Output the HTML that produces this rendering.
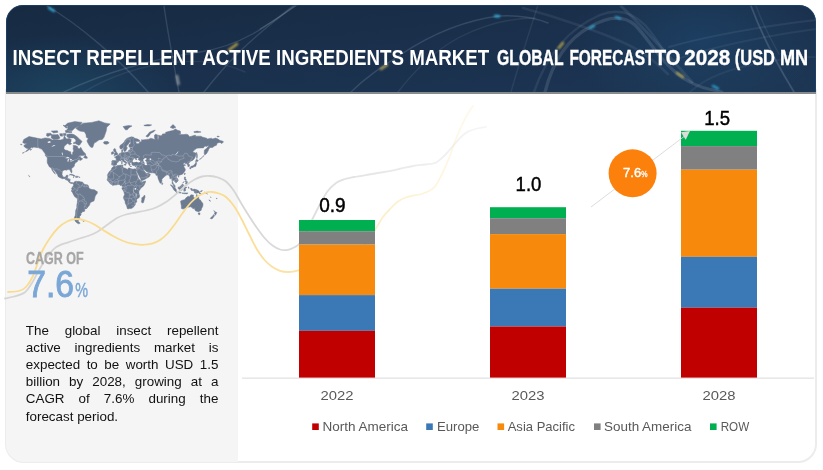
<!DOCTYPE html>
<html lang="en">
<head>
<meta charset="utf-8">
<title>Insect Repellent Active Ingredients Market</title>
<style>
html,body{margin:0;padding:0;background:#fff;}
body{width:823px;height:470px;overflow:hidden;position:relative;font-family:"Liberation Sans",sans-serif;}
#g{position:absolute;left:0;top:0;width:823px;height:470px;display:block;}
#para{position:absolute;left:25.8px;top:321.6px;width:192.6px;font-size:13.4px;line-height:17.22px;color:#111;}
#para div{text-align:justify;text-align-last:justify;white-space:nowrap;height:17.22px;}
#para div.last{text-align:left;text-align-last:left;}
</style>
</head>
<body>
<svg id="g" width="823" height="470" viewBox="0 0 823 470" font-family="'Liberation Sans',sans-serif">
<defs>
<linearGradient id="hdr" x1="0" y1="0" x2="1" y2="1">
<stop offset="0" stop-color="#172a42"/>
<stop offset="0.5" stop-color="#1a304c"/>
<stop offset="1" stop-color="#1c3654"/>
</linearGradient>
<radialGradient id="hglow" gradientUnits="userSpaceOnUse" cx="700" cy="30" r="130" gradientTransform="matrix(1 0 0 0.6 0 22)">
<stop offset="0" stop-color="#1f507c" stop-opacity="0.42"/><stop offset="1" stop-color="#255078" stop-opacity="0"/>
</radialGradient>
<radialGradient id="hglow2" gradientUnits="userSpaceOnUse" cx="60" cy="95" r="120" gradientTransform="matrix(1 0 0 0.5 0 47)">
<stop offset="0" stop-color="#1f5672" stop-opacity="0.5"/><stop offset="1" stop-color="#1f5672" stop-opacity="0"/>
</radialGradient>
<filter id="b1" x="-50%" y="-50%" width="200%" height="200%"><feGaussianBlur stdDeviation="0.9"/></filter>
<filter id="b0" x="-5%" y="-5%" width="110%" height="110%"><feGaussianBlur stdDeviation="0.45"/></filter>
<clipPath id="card"><path d="M6 94H816V444a18 18 0 0 1-18 18H24a18 18 0 0 1-18-18Z"/></clipPath>
<clipPath id="hclip"><path d="M6 92V22A17 17 0 0 1 23 5H799A17 17 0 0 1 816 22V92Z"/></clipPath>
<linearGradient id="fadeG" gradientUnits="userSpaceOnUse" x1="230" y1="0" x2="490" y2="0">
<stop offset="0" stop-color="#d5d5d5"/><stop offset="0.3" stop-color="#d9d9d9" stop-opacity="0.9"/><stop offset="1" stop-color="#dcdcdc" stop-opacity="0.25"/>
</linearGradient>
<linearGradient id="fadeY" gradientUnits="userSpaceOnUse" x1="230" y1="0" x2="476" y2="0">
<stop offset="0" stop-color="#fadc90"/><stop offset="0.3" stop-color="#fbe09c" stop-opacity="0.85"/><stop offset="1" stop-color="#fce3a3" stop-opacity="0.2"/>
</linearGradient>
</defs>

<!-- card -->
<path d="M6 90H816V444a18 18 0 0 1-18 18H24a18 18 0 0 1-18-18Z" fill="#fff" stroke="#ececec" stroke-width="2"/>
<!-- left panel -->
<g clip-path="url(#card)">
<rect x="5" y="94" width="233" height="370" fill="#f5f5f5"/>
</g>

<!-- header -->
<g clip-path="url(#hclip)">
<rect x="6" y="5" width="810" height="87" fill="url(#hdr)"/>
<rect x="6" y="5" width="810" height="87" fill="url(#hglow)"/>
<rect x="6" y="5" width="810" height="87" fill="url(#hglow2)"/>
<g id="streaks" filter="url(#b0)" fill="none" stroke="#b9c8dc" stroke-opacity="0.17" stroke-width="1.4" stroke-linecap="round">
<path d="M47 6C80 25 120 60 148 92"/>
<path d="M164 6C168 35 174 65 179 92"/>
<path d="M64 92C110 70 160 58 200 52C240 46 270 25 294 5"/>
<path d="M204 92C225 65 250 38 296 5"/>
<path d="M84 92C110 76 140 66 175 62C205 60 225 63 245 72" stroke-opacity="0.09"/>
<path d="M351 92C365 78 380 68 400 55C430 35 465 20 500 16C520 15 535 18 548 23"/>
<path d="M398 92C415 70 435 50 460 37C490 22 515 18 535 18" stroke-opacity="0.1"/>
<path d="M260 29C275 20 287 12 297 5"/>
<path d="M511 92C520 60 530 30 538 5" stroke-opacity="0.1"/>
<path d="M545 92C552 65 565 40 590 27C605 18 622 14 635 25C650 40 665 70 690 82C700 88 712 90 722 92" stroke-width="3.2" stroke-opacity="0.16"/>
<path d="M534 92C545 60 565 30 600 15C615 9 630 10 645 25C655 36 662 48 670 60" stroke-width="2.4" stroke-opacity="0.1"/>
<path d="M621 6C640 24 660 46 692 82" stroke-width="3" stroke-opacity="0.12"/>
<path d="M523 8C560 18 600 32 621 41.5C637 48 652 58 668 74" stroke-width="2.6" stroke-opacity="0.09"/>
<path d="M751 6C760 30 772 56 794 92" stroke-width="1.8" stroke-opacity="0.2"/>
<path d="M756 6C762 22 770 38 779 54" stroke-opacity="0.1"/>
<path d="M669 47C700 38 760 26 816 20" stroke-opacity="0.09" stroke-width="2"/>
<path d="M675 60C710 47 770 35 816 29" stroke-opacity="0.08" stroke-width="2"/>
<path d="M690 92C705 78 730 68 765 62C790 58 805 57 816 57" stroke-opacity="0.07" stroke-width="2"/>
</g>
<g fill="none" stroke-linecap="round" stroke-width="2.4" filter="url(#b1)">
<path d="M49 8L54 11" stroke="#35b6e6" stroke-opacity="0.9"/>
<path d="M229 50L237 44" stroke="#e6c646" stroke-opacity="0.75"/>
<path d="M177 76L178.5 84" stroke="#d8d8d0" stroke-opacity="0.55" stroke-width="2.6"/>
<path d="M381 69L387 65" stroke="#e8c85a" stroke-opacity="0.7"/>
<path d="M495 16L499 16.3" stroke="#35b6e6" stroke-opacity="0.9"/>
<path d="M559 48L563 43" stroke="#e6c646" stroke-opacity="0.7"/>
<path d="M590 28L594 26" stroke="#35b6e6" stroke-opacity="0.8"/>
<path d="M616 17L620 18.5" stroke="#35b6e6" stroke-opacity="0.7"/>
<path d="M677 73L683 77" stroke="#e6c646" stroke-opacity="0.7"/>
<path d="M713 86L718 88.5" stroke="#35b6e6" stroke-opacity="0.8"/>
</g>
</g>
<path d="M6.5 92V22A16.5 16.5 0 0 1 23 5.5H799A16.5 16.5 0 0 1 815.5 22V92" fill="none" stroke="#1d4a78" stroke-opacity="0.6" stroke-width="1"/>
<rect x="6" y="92" width="810" height="2" fill="#868b8c"/>

<!-- map -->
<g id="map">
<path d="M22.7 142.4L23.8 139.4L29.1 136.5L37.8 138.3L41.2 138.9L45.1 137.9L49.6 138.4L52.4 139.9L56.3 139.9L60.8 139.9L63.6 138.9L64.2 135.7L66.4 138.9L69.2 138.4L71.2 139.4L70.9 141.9L68.1 142.9L66.4 144.3L64.2 146.6L63.9 148.6L65.0 150.1L67.5 150.5L69.2 151.5L70.7 151.8L70.9 153.4L71.7 154.7L72.6 154.6L72.6 152.6L73.7 150.9L73.1 148.8L73.4 147.1L73.1 145.4L75.4 145.4L77.6 146.6L77.9 148.4L79.9 148.8L80.7 147.2L82.1 149.7L83.2 151.4L85.5 153.8L85.5 154.6L83.2 155.6L79.9 155.6L78.2 156.9L80.4 156.5L80.7 157.7L82.7 158.8L81.6 159.7L79.9 160.6L79.3 159.5L77.6 160.5L77.3 161.7L75.4 162.7L74.5 164.5L74.3 166.2L73.1 167.2L71.5 168.8L72.0 171.7L71.7 172.9L71.0 172.4L70.4 171.1L69.8 169.8L68.7 169.6L66.7 169.7L66.7 170.3L65.6 170.1L64.2 170.1L62.5 171.1L62.2 172.7L62.0 174.6L63.0 176.7L63.9 177.2L65.6 177.0L66.1 175.5L68.1 175.2L67.8 176.7L67.3 178.5L68.7 178.7L70.2 179.2L69.9 181.6L70.6 182.5L72.0 182.6L73.4 182.9L73.5 183.4L72.9 183.2L72.0 183.8L71.2 183.4L70.3 183.2L68.9 182.2L67.8 180.4L65.8 179.8L64.2 178.4L62.5 178.7L60.2 177.8L58.0 176.4L57.7 174.9L56.3 173.0L55.2 171.4L53.8 169.8L52.6 168.7L52.7 169.8L54.1 171.7L54.9 173.3L55.5 174.2L54.1 173.0L52.7 171.1L51.8 169.5L51.2 168.0L49.3 166.8L48.5 165.2L47.3 162.9L47.2 161.0L47.3 158.6L47.0 157.0L47.9 157.3L48.0 156.4L46.8 155.5L45.4 154.6L44.8 153.0L43.7 151.9L42.8 150.5L41.7 149.0L40.0 148.6L38.4 147.7L36.1 147.5L33.9 147.1L31.9 148.1L31.6 146.8L30.5 148.4L29.1 149.7L27.1 151.1L25.5 151.8L26.6 150.5L28.3 149.2L28.5 148.6L27.1 148.6L26.0 147.9L24.6 147.1L23.8 145.9L24.6 144.8L26.6 144.0L26.6 143.4L24.3 143.4ZM72.0 134.0L74.3 134.8L77.1 136.8L79.3 138.9L82.1 141.4L81.0 142.9L79.9 144.8L78.5 145.2L76.8 144.3L75.4 143.4L73.4 143.6L73.7 142.4L75.7 141.9L75.9 139.9L73.7 137.9L72.0 137.9L69.2 137.9L67.0 136.8L66.7 134.6L69.2 134.0ZM51.3 134.6L55.8 134.8L58.0 134.6L60.0 137.9L58.0 139.2L53.5 139.4L51.3 137.9ZM46.8 133.4L50.7 133.2L51.8 134.6L47.9 136.5L46.5 135.7ZM66.4 130.5L72.0 130.7L74.3 128.6L79.9 125.3L82.1 122.4L74.8 121.6L67.5 123.2L65.3 125.3L68.1 127.9ZM65.3 130.5L72.0 131.7L71.5 132.7L65.8 132.6ZM51.3 131.1L57.4 130.8L58.0 132.3L53.5 132.9ZM63.0 125.3L68.1 125.9L66.4 128.2ZM59.7 133.7L62.5 133.7L62.5 136.2L60.2 136.0ZM63.3 133.4L66.1 133.4L65.8 135.4L63.6 135.5ZM68.1 142.4L69.8 141.9L71.7 143.8L69.8 144.8L68.1 143.8ZM83.6 157.5L85.5 154.6L85.8 155.9L87.2 156.9L87.2 158.3L85.5 158.2ZM44.9 155.2L46.8 155.8L47.6 157.0L46.5 156.7ZM75.9 128.3L78.8 125.9L83.2 123.2L91.7 122.4L98.9 120.8L104.6 122.9L110.2 123.9L106.8 127.3L106.2 131.1L104.8 135.1L104.0 137.3L102.3 139.4L98.9 139.9L96.1 142.1L94.2 143.1L92.8 147.3L91.7 147.5L90.0 146.6L88.3 143.8L86.9 140.9L88.3 138.4L86.3 137.3L86.0 134.6L84.4 131.7L79.9 131.1L77.6 129.8ZM103.4 142.4L104.6 141.5L107.9 141.5L109.2 142.9L106.8 144.3L104.3 143.9ZM69.2 175.0L70.9 174.2L73.1 174.7L75.3 176.0L73.4 176.2L72.6 175.2L70.3 174.9ZM75.2 177.0L76.2 176.2L78.2 176.4L78.5 177.0L76.8 177.5ZM79.2 177.0L80.1 177.1L80.0 177.4L79.2 177.3ZM73.0 177.1L74.1 177.2L73.7 177.5ZM73.5 183.1L74.5 181.7L76.5 181.0L76.8 181.6L78.8 181.3L81.0 181.9L82.4 181.9L83.2 183.1L84.9 184.5L87.2 184.8L88.3 185.6L88.8 187.5L89.7 188.7L91.9 189.5L94.5 189.8L96.1 191.0L97.3 191.6L97.3 193.3L95.9 195.0L95.0 196.8L94.7 198.6L93.9 201.0L91.9 201.7L90.0 203.1L89.6 204.9L88.3 206.5L86.9 208.4L85.2 208.9L84.2 208.4L84.9 210.1L84.4 211.4L82.1 211.7L81.8 213.1L80.4 213.1L81.2 214.3L80.3 215.9L79.0 216.9L80.0 217.7L78.9 219.5L78.2 220.7L78.5 221.4L80.2 223.2L78.5 223.8L77.1 223.0L75.4 221.4L74.5 219.5L74.5 217.3L75.4 215.2L75.6 212.4L75.7 210.4L76.8 207.8L76.8 205.3L77.3 202.8L77.5 199.8L77.1 198.3L74.8 196.8L73.7 195.0L72.6 192.7L71.3 191.0L72.0 189.5L71.5 188.7L72.0 187.5L72.7 186.9L73.4 185.7L73.4 183.9ZM82.7 220.7L84.4 220.5L84.1 221.3L83.0 221.2ZM111.9 165.2L111.6 163.9L112.0 162.0L111.7 161.0L112.4 160.5L114.9 160.6L116.1 160.7L116.2 158.8L115.5 157.8L114.3 157.0L116.1 156.8L115.9 156.0L117.0 156.1L117.8 155.1L118.9 154.7L119.5 153.4L120.8 153.0L121.7 152.6L121.7 150.1L122.8 149.5L122.8 150.9L122.5 152.2L123.1 152.6L124.8 152.6L127.3 152.0L128.7 151.5L128.7 150.1L130.4 149.7L130.1 148.1L132.6 147.8L133.7 147.5L132.0 147.1L129.8 147.5L129.0 146.6L129.0 144.8L130.9 142.9L130.4 142.1L129.2 142.4L128.7 143.8L126.7 145.7L126.4 147.1L127.4 147.7L126.2 150.1L125.8 150.9L124.9 151.4L124.2 151.4L123.9 150.5L123.2 148.6L122.8 147.9L121.4 149.2L120.0 148.6L119.7 146.6L120.3 145.2L122.5 143.8L124.2 141.9L125.3 139.9L127.0 138.4L129.2 137.5L131.5 136.8L133.7 137.3L134.3 138.1L135.7 138.5L137.7 139.1L139.9 140.4L139.6 141.6L137.1 141.6L135.4 141.2L136.4 143.4L137.9 143.8L139.3 143.3L139.6 142.1L141.6 141.6L141.6 139.6L142.7 139.9L146.6 139.4L148.9 139.2L150.8 138.2L153.1 138.9L155.3 139.6L154.5 137.9L154.5 135.1L155.6 134.3L157.6 134.9L157.7 138.9L158.1 139.9L158.7 137.3L158.4 135.1L160.1 135.7L162.1 135.5L162.3 134.0L165.4 133.7L165.7 132.3L170.2 131.1L173.0 130.5L175.5 129.0L177.5 130.2L180.3 131.1L180.6 133.8L178.0 134.0L180.3 134.6L183.7 134.6L186.2 134.2L188.1 134.8L189.5 136.8L191.5 136.2L195.4 135.1L195.4 136.2L201.1 136.2L202.2 137.0L206.7 138.2L207.2 139.1L211.1 138.2L212.8 138.9L215.6 138.1L217.9 139.0L217.9 142.8L217.0 143.4L216.5 145.2L214.5 146.0L212.6 147.5L210.0 147.5L208.6 149.4L208.2 150.9L207.6 151.8L206.7 153.4L205.7 154.3L204.8 155.0L204.2 153.4L204.4 150.1L206.1 148.8L208.3 146.6L208.6 145.2L206.7 146.6L205.0 146.0L203.3 148.0L201.6 147.9L198.8 148.1L196.8 148.2L194.3 150.1L192.7 151.9L194.3 152.6L196.0 153.2L195.7 155.8L194.6 158.2L192.9 160.2L191.2 161.0L190.3 161.5L189.5 162.4L188.4 163.2L189.5 164.8L189.4 166.3L187.9 166.8L187.9 165.2L187.0 164.5L187.3 163.4L185.3 163.8L185.1 162.5L183.1 163.8L183.5 164.7L184.6 164.6L185.6 165.2L184.2 165.8L183.8 166.5L184.7 168.2L185.3 169.1L185.1 170.8L184.2 172.0L183.4 173.3L182.3 174.2L180.9 174.7L179.2 175.2L178.6 175.9L177.9 175.1L176.8 175.8L176.3 176.7L176.9 177.9L177.9 178.9L178.2 180.7L177.1 181.9L175.8 182.9L175.7 182.0L174.7 181.6L174.4 180.8L173.6 180.4L173.0 180.1L172.6 181.9L173.3 183.7L174.1 184.4L174.9 185.4L175.0 186.6L175.4 187.3L174.9 187.3L173.7 186.4L173.2 184.8L172.0 183.2L172.2 181.6L171.8 179.5L171.6 178.2L170.5 178.7L169.8 178.5L169.9 177.0L168.8 175.5L168.2 174.4L167.4 174.9L166.5 175.1L165.7 175.5L165.4 176.1L164.6 176.4L163.1 178.1L161.9 178.9L161.9 180.4L161.7 182.0L161.2 182.6L160.4 183.4L159.7 182.3L158.9 180.4L158.1 178.5L157.7 176.4L157.6 175.3L156.5 175.6L155.6 174.7L156.3 174.2L155.2 173.8L154.5 173.1L152.8 172.8L151.4 172.9L149.2 172.5L148.6 171.7L147.5 172.0L145.8 171.1L145.0 169.7L143.8 169.8L144.1 170.8L145.0 171.9L145.2 172.7L145.7 172.4L145.8 173.3L147.2 173.5L148.4 172.2L148.7 173.3L149.8 173.9L150.4 174.6L149.3 176.7L147.9 177.6L146.2 178.5L144.2 179.8L142.1 180.5L141.3 180.5L140.9 179.2L139.9 177.3L138.8 175.2L137.8 173.4L136.5 171.1L136.4 170.1L136.3 171.1L135.7 171.1L135.1 169.9L135.0 169.0L136.1 169.0L136.5 167.8L137.1 166.0L137.2 165.4L136.0 165.6L134.9 165.8L134.0 165.5L132.7 165.4L132.2 164.8L131.7 164.1L131.8 163.4L131.6 163.1L131.5 162.6L130.4 162.5L130.1 162.9L129.7 162.7L129.8 163.8L130.4 164.5L129.8 164.6L129.9 165.5L129.5 165.5L129.1 165.2L128.8 164.3L128.1 163.3L127.8 162.0L127.3 161.3L125.9 160.6L125.3 159.9L124.8 159.4L124.6 159.0L123.8 159.3L123.9 160.2L124.6 160.8L125.9 161.8L127.3 162.9L126.4 162.8L126.2 163.4L126.4 163.8L125.9 164.5L125.7 164.5L125.9 163.8L125.6 163.1L124.8 162.4L123.9 162.0L122.8 161.0L122.5 160.2L121.8 159.9L121.1 160.4L120.3 160.9L119.1 160.6L118.6 161.3L118.7 161.8L117.3 162.4L116.7 163.4L117.0 164.0L116.5 164.7L115.8 165.3L114.4 165.4L113.8 165.8L113.4 165.4L112.7 165.0ZM217.8 139.0L220.1 140.4L222.9 141.2L223.5 141.9L221.8 143.6L220.1 142.4L217.8 142.8ZM113.8 155.8L115.2 155.2L117.5 154.8L117.9 153.6L117.1 153.4L116.8 152.2L116.1 151.4L115.8 150.9L115.8 149.5L114.7 149.5L115.2 148.7L114.1 148.7L113.5 149.7L113.8 150.9L114.2 151.8L115.2 151.9L115.2 153.0L114.4 153.2L114.5 154.0L114.0 154.3L114.9 154.7ZM111.3 154.2L113.4 154.0L113.5 153.0L113.8 152.1L112.8 151.5L112.1 152.2L111.3 152.4L111.6 153.2ZM113.8 166.0L115.8 166.4L117.5 165.5L119.7 165.3L121.9 165.0L123.1 165.2L122.7 167.0L123.1 167.5L124.2 167.9L125.5 168.3L127.6 169.6L128.1 169.1L128.1 168.2L129.8 168.1L130.9 168.7L133.2 169.2L134.3 168.8L135.0 169.0L135.1 169.9L135.9 171.4L136.8 173.6L137.7 175.5L137.8 176.9L138.8 178.7L139.9 179.8L141.1 180.7L141.2 181.3L142.1 181.9L143.8 181.4L145.6 181.0L145.4 182.2L144.4 184.5L143.3 186.3L141.6 187.5L140.2 189.3L139.1 190.8L138.8 192.1L139.1 193.9L139.6 195.6L139.3 197.4L137.7 198.4L136.5 199.8L136.8 201.9L135.4 203.1L135.3 204.6L134.0 206.5L132.6 207.8L131.2 208.4L129.2 208.6L128.1 208.9L127.2 208.4L127.0 207.1L126.2 204.9L125.3 203.4L125.0 201.0L123.6 198.6L123.5 197.1L124.6 194.5L124.2 193.0L123.7 191.6L123.1 190.4L121.9 188.7L122.2 187.5L122.3 186.0L121.7 185.4L120.3 185.6L119.4 184.4L117.7 184.5L115.8 185.1L114.4 185.0L112.7 185.5L111.6 184.5L110.4 183.9L109.5 182.8L108.6 181.7L107.5 180.8L107.1 179.3L107.6 178.5L107.8 176.7L107.4 175.5L107.9 173.9L108.8 172.4L109.6 171.3L111.3 170.1L111.5 168.8L112.1 167.6L113.3 167.0ZM144.6 195.0L145.1 197.1L144.7 198.0L143.5 202.5L142.4 203.1L141.4 201.9L141.8 199.8L141.8 197.7L143.0 197.2L143.8 195.9ZM180.6 201.0L180.9 203.4L181.4 205.9L181.4 208.4L183.1 209.1L184.8 208.3L186.5 207.8L188.7 207.1L190.7 206.8L192.4 207.8L193.2 209.1L194.1 207.8L194.6 209.1L195.4 210.7L197.4 211.5L199.0 211.7L199.9 210.9L201.1 210.4L201.6 208.4L202.7 206.5L203.0 204.6L202.7 203.1L201.6 201.9L200.5 200.1L199.0 199.2L198.5 196.8L197.4 196.2L196.8 194.3L196.4 195.6L196.0 198.0L195.2 198.3L193.2 197.1L193.6 195.2L191.5 194.7L190.4 195.2L189.5 196.8L188.1 196.2L187.0 197.1L185.5 198.3L185.1 199.5L182.5 200.2ZM198.1 212.9L200.0 212.9L199.9 214.6L198.8 214.8ZM213.8 210.5L214.8 211.5L215.4 211.9L216.9 212.6L216.2 213.8L215.6 215.1L215.0 215.1L215.1 214.2L214.4 213.7L214.9 212.5ZM213.8 214.5L214.6 215.4L213.8 216.8L212.8 218.1L212.0 218.9L210.3 218.5L211.4 217.0L212.8 215.9ZM190.4 188.6L192.1 188.6L192.6 190.0L194.0 189.1L196.0 189.6L198.0 190.3L199.4 191.6L199.8 192.4L201.3 194.2L199.6 193.9L198.8 192.7L197.4 193.0L196.0 193.3L194.6 192.9L194.3 191.3L192.9 190.6L191.5 190.4L191.0 189.7ZM200.2 191.3L202.2 190.5L202.3 191.0L201.1 191.7ZM178.0 187.2L179.3 187.1L180.3 186.3L181.7 185.1L182.5 183.9L183.7 185.0L183.0 186.3L183.1 187.5L182.3 188.7L182.0 190.3L180.6 190.0L179.5 189.8L178.6 189.0L178.0 188.1ZM170.4 184.8L171.6 185.0L173.3 186.8L175.1 188.1L176.4 189.8L176.3 191.4L175.5 191.4L174.1 190.2L173.2 188.7L172.2 187.1ZM175.9 192.0L177.8 192.0L179.2 191.8L181.1 192.5L181.0 193.1L178.6 192.8L176.6 192.4ZM181.7 192.9L183.7 192.9L185.9 192.9L187.0 193.0L188.1 193.0L186.5 193.9L183.9 193.6L182.0 193.3ZM184.1 187.6L184.8 187.3L187.0 187.2L185.9 187.9L184.5 187.9L185.1 188.7L186.1 188.7L185.3 189.3L185.6 190.7L185.1 190.9L184.7 189.7L184.4 191.3L183.9 191.3L183.8 190.0ZM188.4 186.9L189.0 187.2L189.0 188.4L188.4 188.1ZM184.5 177.0L185.5 177.1L185.3 178.5L186.5 180.1L186.2 180.5L184.8 179.9L184.4 179.3L184.4 178.4ZM185.3 181.1L186.5 181.4L187.3 181.6L187.0 182.2L185.9 182.6L185.3 181.9ZM185.3 183.9L186.2 182.9L187.3 182.3L187.9 183.7L187.3 184.7L186.5 184.2ZM182.7 183.1L183.9 181.9L184.1 181.4L183.1 182.6ZM190.3 167.2L191.2 166.2L193.2 165.8L193.8 164.9L195.2 164.1L195.4 163.1L196.2 162.1L196.6 163.4L196.0 165.2L195.9 166.2L195.3 166.5L193.8 166.8L192.9 167.5L191.5 167.0ZM195.4 161.7L196.4 159.2L198.4 160.6L197.1 161.7L196.0 161.3ZM189.8 167.5L190.8 167.6L190.7 168.9L189.9 169.0ZM191.2 167.2L192.4 167.0L192.2 167.6L191.4 167.9ZM196.6 152.3L197.2 154.2L197.4 156.4L197.0 158.6L196.6 157.7L196.6 155.8L196.4 153.8ZM184.8 172.9L185.3 173.3L184.7 174.9L184.3 174.2ZM177.9 176.5L178.9 176.1L179.1 176.7L178.3 177.2ZM161.8 182.3L162.8 183.7L162.3 184.5L161.8 184.4L161.7 183.4ZM145.8 136.2L148.0 134.2L149.4 132.3L153.4 130.5L155.3 130.1L153.9 131.7L150.6 133.4L149.2 135.7L147.8 137.1ZM123.1 126.6L125.9 125.9L128.7 125.5L132.0 125.9L128.7 127.9L127.3 129.8L125.3 129.8L124.5 128.6ZM143.8 125.3L147.8 124.6L151.7 124.9L149.4 125.9L145.0 125.9ZM170.2 127.3L173.0 124.6L175.8 127.3L173.0 128.6ZM193.8 131.7L197.1 131.1L201.1 132.0L198.2 132.6L194.3 132.5ZM217.0 136.2L219.3 136.4L219.0 136.9L217.2 136.9ZM123.9 164.5L125.7 164.3L125.4 165.4L123.9 164.7ZM121.5 162.4L122.3 162.4L122.2 163.7L121.6 163.8ZM121.7 161.3L122.2 161.0L122.2 162.0L121.8 162.0ZM130.1 166.1L131.7 166.3L131.5 166.5L130.1 166.4ZM135.0 166.4L136.3 166.0L136.0 166.6L135.1 166.8ZM29.4 176.0L30.1 176.4L29.6 176.8L29.3 176.3ZM28.1 175.1L28.5 175.3L28.2 175.4ZM199.4 159.4L201.1 158.4L202.7 156.9L204.1 155.5L203.9 155.5L202.2 157.4L200.5 158.9ZM22.4 153.0L23.8 152.6L24.6 151.9L24.3 152.3L22.9 153.2ZM30.2 149.4L31.5 149.2L31.3 149.9L30.3 150.3ZM20.6 144.1L22.2 144.5L21.5 144.8L20.6 144.5ZM208.9 199.8L210.6 201.1L210.3 201.2L208.9 200.2ZM216.4 198.3L217.2 198.3L217.0 198.7L216.4 198.7ZM204.7 192.0L206.7 193.3L207.5 194.0L206.4 193.5L204.8 192.3ZM210.4 196.8L210.8 197.1L211.0 197.7L210.6 197.2Z" fill="#6d7b91" stroke="#6d7b91" stroke-width="0.5" stroke-linejoin="round"/>
<path d="M132.6 161.7L133.0 160.2L133.6 159.3L134.3 158.3L135.4 158.7L135.4 159.5L135.8 159.9L136.8 159.7L137.4 159.3L136.5 158.9L136.5 158.6L137.7 158.0L138.8 157.9L137.9 159.0L138.5 159.9L139.9 161.0L140.2 162.0L138.2 162.4L136.5 161.7L134.6 162.2L133.2 162.2ZM143.3 159.5L144.4 158.4L145.8 158.0L146.6 158.4L146.4 159.5L145.5 159.9L145.1 161.0L146.1 161.3L146.6 162.4L146.6 163.4L147.2 164.8L146.1 165.3L145.0 164.9L144.4 164.1L144.7 162.9L143.8 161.7L143.3 160.6ZM149.6 158.4L151.1 158.4L151.1 159.9L149.8 160.2ZM65.3 158.2L67.5 156.7L69.2 157.4L69.4 158.3L67.8 158.3L66.4 158.3ZM67.6 161.7L68.4 161.7L68.9 159.1L68.1 159.0L67.5 159.9ZM69.5 158.8L71.5 158.9L72.0 159.8L70.9 160.8L70.1 159.9ZM70.2 161.8L72.6 161.1L74.1 160.5L74.0 160.2L72.3 160.5L70.3 161.5ZM61.6 153.0L62.5 152.6L62.9 155.0L62.5 155.4ZM47.3 141.9L50.1 140.9L50.7 142.6L48.5 142.9ZM51.3 146.6L54.1 145.0L55.5 145.2L52.9 146.6ZM134.7 187.9L136.0 187.9L136.0 189.5L134.9 189.7ZM175.2 154.4L176.4 153.4L178.0 151.4L178.5 151.4L176.9 154.0L175.5 154.7ZM158.1 158.8L160.1 158.2L161.2 158.3L159.5 158.6L158.4 159.3ZM133.3 190.1L133.6 190.1L134.3 193.0L133.9 193.0ZM135.9 193.6L136.3 193.6L136.6 196.4L136.3 196.4Z" fill="#f5f5f5"/>
<path d="M47.9 156.5L63.6 156.5L66.7 157.3L69.5 158.4L70.6 159.3L70.6 161.7L72.6 160.8L74.0 160.2L75.0 159.5L76.8 159.5L78.1 157.7L78.9 158.0L79.3 159.5M37.8 138.3L37.8 147.2L39.8 148.4L42.3 150.9L43.9 151.8M51.2 168.2L52.6 168.0L54.6 169.0L56.2 169.0L57.2 168.6L58.3 170.1L59.4 169.9L60.8 171.1L62.3 172.4M65.2 179.5L65.8 177.8L66.9 177.5L67.4 177.1M66.4 179.9L67.3 178.7M67.8 180.4L70.2 179.2M68.8 181.5L69.9 181.6M70.3 183.2L70.6 182.4M76.8 181.1L76.2 183.4L77.6 184.2L79.0 184.5L79.3 187.4M83.2 183.1L82.4 184.5L83.0 185.1L81.0 185.7L81.3 186.8L79.4 187.4M83.0 185.1L83.4 186.7L85.2 186.9L86.3 186.7L87.7 186.7L88.0 185.6M84.8 184.5L84.4 186.0L85.2 186.9M86.6 184.7L86.3 186.7M79.3 187.4L77.6 187.8L77.9 189.0L77.6 190.5M72.7 187.2L74.5 188.1L74.7 188.7L77.6 190.5M71.9 190.1L72.6 191.0L74.7 188.7M77.6 190.5L75.9 191.0L75.4 192.4L76.2 193.6L77.3 193.6L77.3 194.5L78.2 194.5M78.2 194.5L78.2 197.1L77.9 198.3L77.5 198.7M78.2 194.5L80.3 193.9L80.4 195.0L83.0 196.0L83.2 197.6L84.2 197.7L84.5 198.6L84.4 199.8M77.9 198.3L78.5 199.8L79.2 201.4M79.2 201.4L80.4 201.0L81.8 201.1L82.3 199.5L84.4 199.8M84.4 199.8L84.5 201.1L85.7 201.1L86.4 202.2L86.3 203.1M81.8 201.1L84.4 202.8L84.0 204.1L85.5 204.2L86.3 203.1M86.3 203.1L86.7 204.1L84.6 206.0L84.2 208.1M84.6 206.0L85.8 206.4L86.9 208.2M79.2 201.4L78.5 202.5L78.6 204.0L77.7 205.9L77.6 207.8L77.3 210.1L77.0 211.7L76.7 213.8L76.7 215.9L76.5 217.7L75.9 219.5L76.3 220.7L78.5 221.3M112.0 161.7L113.3 161.8L113.0 163.4L112.7 165.0M115.9 160.7L117.3 161.2L118.7 161.4M118.3 154.9L119.3 155.8L120.3 156.1L121.5 156.5L121.2 157.6L120.3 158.6L120.8 158.8L120.7 159.9L121.1 160.4M118.8 154.7L120.3 155.1L120.3 156.1M120.3 155.1L120.9 153.2M121.7 151.9L122.5 151.9M124.9 152.7L125.1 155.0L123.7 155.5L124.6 156.8L124.2 157.7L122.3 157.7L121.2 157.6M120.8 158.8L122.8 158.4L124.6 158.4L124.6 159.0M124.2 157.7L124.6 158.4L126.0 158.2L126.4 157.3L125.3 156.5L124.6 156.8M125.1 155.0L127.4 156.1L129.5 156.4L130.4 155.4L130.1 154.2L130.1 152.6L129.7 152.3L127.9 152.3M126.4 157.3L127.4 157.4L129.4 157.0L129.5 156.4M126.0 158.2L127.4 158.8L128.3 158.7L129.4 157.0M128.3 158.7L129.5 159.8L129.6 160.4L132.0 160.2L132.9 160.5M129.4 157.0L130.9 157.5L131.8 157.1L132.7 159.1L133.6 159.3M124.6 159.1L125.9 158.4L127.6 159.5L127.6 159.7L125.9 159.4L125.8 160.1L126.8 161.0L127.3 161.3M127.6 159.5L127.8 160.6L128.3 161.1L129.5 161.5L129.6 160.4M128.1 163.3L128.7 162.5L129.8 162.2L131.7 161.9L131.5 162.6M131.7 161.9L132.6 161.7M127.8 161.7L128.3 161.1L128.7 162.5M123.2 148.4L123.9 146.6L123.7 144.3L125.0 142.4L126.2 139.9L128.4 138.9L130.6 139.3L131.5 137.9L132.6 136.8M130.4 142.1L130.2 140.1L128.4 138.9M132.5 147.1L134.6 145.0L133.6 143.4L133.7 140.4L132.9 139.4L133.2 138.7L134.3 138.1M132.6 147.9L132.3 149.7L132.7 150.8L131.8 151.2L131.2 152.4L130.1 152.6M130.5 149.3L132.3 149.7M128.7 150.9L131.8 151.2M128.8 151.5L129.7 151.9L129.7 152.3M132.7 150.8L134.3 151.4L135.2 153.0L134.6 154.1L130.1 154.5M134.6 154.1L136.0 154.0L136.8 155.4L139.3 156.1L139.3 157.3L138.3 158.0M131.8 157.1L133.3 157.3L133.7 158.5L132.7 159.1M140.2 162.0L141.3 162.3L142.0 163.3L141.8 165.0L140.6 165.0L138.6 165.4L137.4 165.3L137.1 165.8M139.3 160.6L141.6 161.2L143.0 161.8L144.1 161.8M141.3 162.3L143.0 161.8M141.3 162.3L142.1 162.2L143.0 163.4L143.8 163.4L144.3 164.2M142.0 163.3L143.0 163.8L143.8 163.4M141.8 165.0L142.7 166.4L142.4 167.2L143.7 169.1L144.1 169.8M140.6 165.0L140.0 166.7L138.7 167.6L138.9 168.4M136.9 168.0L138.7 167.6L138.9 168.4L137.7 168.8L138.2 169.5L137.4 170.1L136.5 170.1M136.1 169.0L136.5 170.1L136.8 169.0L136.9 168.0L136.9 167.6L136.6 167.8M136.9 167.6L137.4 167.0L137.1 166.8M138.9 168.4L140.5 169.1L142.0 170.3L143.0 170.4L143.7 169.8L143.8 169.8M143.0 170.4L143.5 170.8L144.1 170.8M140.9 178.3L141.6 177.7L143.3 177.9L146.1 176.7M146.1 176.7L146.7 178.1M146.1 176.7L147.9 176.0L148.1 174.9L148.3 173.3M145.8 173.5L146.4 174.3L147.9 174.4L148.1 174.9M147.1 164.9L148.9 164.3L151.2 165.4L150.8 167.4L151.6 168.9L151.1 169.9L152.4 171.6L151.5 172.9M151.1 169.9L154.1 169.9L155.8 168.6L156.7 166.8L157.1 165.5L158.9 165.2M151.2 165.4L153.1 165.6L154.2 164.9L156.2 164.7L157.1 165.4L158.9 165.2M146.6 161.7L148.0 162.2L148.8 161.8L149.7 161.2L150.6 161.5L151.6 162.3L154.2 164.9M148.3 159.5L149.7 159.1L151.1 159.9L153.3 160.5L153.9 161.4L155.0 162.4L155.6 162.1L156.7 161.5M156.7 161.5L158.1 161.0L161.9 161.5M155.9 163.1L158.2 163.4L158.9 164.9M154.9 165.0L155.3 164.3L154.9 163.4L155.9 163.1L156.7 162.9L157.9 162.5L156.7 161.5M144.4 158.4L143.3 157.1L143.3 155.8L145.5 154.6L147.5 155.0L149.8 155.0L151.4 155.0L151.1 152.7L153.5 152.3L156.8 152.5L159.8 152.6L161.8 155.1L163.7 155.0L165.9 156.4M161.9 161.5L161.9 159.5L163.2 159.4L163.5 157.9L164.9 158.0L165.9 156.4M165.9 156.4L168.5 155.1L171.9 155.8L172.0 154.2L174.3 154.7L176.6 155.5L179.5 156.2L182.4 155.9L183.0 156.1M165.9 156.4L167.9 158.3L168.0 159.4L170.4 160.1L171.0 161.2L174.0 161.3L175.8 162.0L178.8 161.1L179.7 160.5L179.6 159.5L181.8 159.1L184.2 158.2L183.0 156.1M183.0 156.1L184.8 153.2L187.3 153.4L188.4 155.9L190.2 156.6L192.6 157.0L191.6 159.5L190.6 159.7L190.4 161.0L190.2 161.4M190.2 161.4L188.7 161.7L188.1 161.8L186.7 163.1M187.7 164.6L188.9 164.1M177.5 175.2L176.6 174.3L176.0 174.1L174.2 174.6M174.2 174.6L173.7 175.4L173.0 175.1L172.4 174.7L172.3 173.5L171.7 173.4L172.3 171.3L171.5 170.9M174.2 174.6L175.2 175.8L175.8 177.0L177.2 178.9L177.2 179.3M173.7 175.4L173.3 176.4L173.7 177.5L174.2 177.3L175.6 177.7L176.1 178.8L175.9 179.6M174.6 181.1L174.4 180.0L175.9 179.6L177.2 179.3L177.3 180.8L176.3 181.2L175.5 181.9M173.0 175.1L171.9 176.3L171.7 177.1L172.3 178.4L172.0 179.2L172.6 181.1L172.2 182.2M173.1 184.3L173.6 184.7L174.2 184.4M171.5 170.9L170.3 172.4L170.0 173.2L169.2 173.6L169.2 174.7L168.7 175.7M168.7 174.2L168.1 173.9L168.7 173.0L167.3 172.8L166.7 172.1L166.3 173.3L166.8 174.9M171.5 170.9L170.2 170.3L168.3 171.2L166.7 171.6L166.4 171.1L164.0 170.5L162.5 169.7L161.9 169.9L161.8 170.6L164.0 171.4L166.3 172.1L166.7 171.6M162.5 169.7L161.1 169.0L161.2 167.0L160.5 166.2L158.9 165.2M155.2 173.8L156.7 173.2L156.2 171.2L157.5 170.4L158.7 169.1L158.7 167.8L158.3 167.0L160.5 166.2M158.9 165.2L158.3 164.1L158.2 163.4L160.7 162.4L161.9 161.5M196.0 189.6L196.0 193.3M178.4 187.0L178.9 187.6L179.7 187.3L181.2 187.2L181.9 185.6L182.8 185.6M115.7 166.4L116.2 168.3L114.8 169.2L112.0 170.6L112.0 171.3M109.5 171.3L112.0 171.3L112.0 171.5L110.2 172.4L110.2 173.9L109.6 174.2L109.6 175.3L107.4 175.3M112.0 171.5L114.2 173.0L113.3 173.0L113.8 178.5L113.9 178.9L110.8 179.0L110.1 179.3L108.8 178.2L107.6 178.5M114.2 173.0L117.9 175.7L118.7 176.7L119.3 176.6L120.3 176.3L123.6 173.9M121.7 165.2L121.6 166.7L121.1 167.3L122.0 168.4L122.2 169.6L122.5 172.0L123.6 173.9M123.4 167.7L122.7 168.6L122.2 169.6M131.0 168.8L130.9 174.9L130.9 176.1L130.4 176.1L130.4 176.4L125.9 173.9L125.3 174.2L123.6 173.9M130.9 174.9L137.6 174.9M130.4 176.4L130.4 178.7L129.5 179.8L129.2 180.5L129.7 181.6L127.6 182.8L125.6 183.7L124.8 182.2L125.3 180.5L124.5 179.9L125.6 178.0L125.9 175.9L125.3 174.2M124.5 179.9L122.5 180.2L120.8 180.4L119.2 180.1L118.9 181.1L118.5 182.8L118.4 184.3M119.3 176.6L119.3 178.2L117.5 179.2L116.6 179.2L115.2 179.9L114.4 180.7L113.8 181.9L112.4 182.0L112.2 181.3L110.5 180.8L110.1 179.3M117.5 179.2L118.1 180.7L118.9 181.1L117.5 181.6L115.3 181.6L115.3 182.5L114.3 182.3L113.8 181.9M115.3 182.5L115.1 185.1M116.9 181.6L117.6 184.5M112.4 182.0L112.6 183.1L112.1 183.6L112.7 185.5M108.5 181.6L109.2 180.6L110.5 180.8L111.7 180.8L112.4 182.0M109.4 182.8L111.0 182.2L111.1 183.1L110.4 184.0M111.1 183.1L112.1 183.6M107.5 180.0L109.2 180.1L108.3 179.9L107.6 180.2M121.7 185.3L122.5 184.0L123.5 183.9L124.6 181.6L124.9 180.7L124.8 182.2L125.6 183.7L125.0 184.5L125.1 185.4L126.0 186.8M122.4 186.7L124.4 186.8L126.0 186.8L126.0 187.1M122.1 187.5L123.2 187.5L123.2 186.8M124.4 186.8L125.0 188.4L124.7 189.5L123.4 189.4L123.1 190.3M126.0 187.1L126.9 188.4L126.0 189.4L125.8 190.4L125.0 190.9L124.1 190.6L123.7 191.4M126.0 186.8L127.3 186.0L127.3 185.5L129.5 185.7L130.9 185.1L132.3 185.1L130.9 183.5L130.1 182.9L129.7 181.6M130.1 182.9L130.6 182.9L131.8 182.4L132.6 182.6L133.7 182.0L135.1 181.1L135.5 182.0L136.0 182.5L136.0 183.1L135.4 183.4L136.5 184.9L136.0 185.6L134.3 185.9L132.3 185.1M138.6 177.3L137.4 179.6L137.2 180.5L136.0 182.5M137.4 179.6L139.3 179.5L140.7 180.7M140.7 180.7L140.3 181.6L141.0 181.3M140.3 181.6L141.0 182.5L143.8 183.4L142.1 185.1L140.5 185.6L139.9 185.8M136.5 184.9L137.1 185.5L138.3 186.0L139.9 185.8L139.9 188.6L140.2 189.1M136.0 185.6L136.5 187.0L136.0 188.0L136.0 188.7L138.0 189.8L138.9 190.8M134.3 185.9L134.5 186.8L133.6 187.7L133.5 188.9L134.0 188.7L136.0 188.7M133.5 188.9L133.3 189.7L133.3 190.6L134.0 189.5L134.0 188.7M134.2 192.9L135.4 193.5L136.0 193.6L136.3 194.8L137.9 194.9L139.6 194.1M134.2 192.9L133.1 193.0L132.8 193.5L132.9 195.0L133.6 195.1L133.6 195.9L132.2 194.8L130.6 194.7L130.4 194.4L129.4 194.6L129.1 192.3L127.8 192.1L127.6 192.7L126.8 192.8L126.2 191.5L124.2 191.5M130.4 194.4L130.4 195.6L129.2 195.6L129.2 197.5L130.0 198.3L128.9 198.6L127.2 198.2L124.8 198.2L123.5 198.1M130.0 198.3L131.1 198.4L132.0 198.5L133.1 197.3L134.0 197.1L134.0 196.8L135.5 196.2L135.4 193.5M135.5 196.2L136.3 196.5L137.0 197.7L136.7 198.0L136.2 197.5L136.3 194.8M131.1 198.4L132.4 200.4L133.4 201.1L134.5 201.2L135.1 200.5L135.4 199.6L135.2 198.9L135.4 197.8L134.0 197.4L134.0 197.1M128.7 198.7L128.7 201.0L128.1 201.0L128.1 202.7L128.6 203.9L129.6 203.1L131.2 203.1L132.0 202.0L133.4 201.1M128.1 202.7L128.1 204.9L126.7 205.1L126.2 205.0M134.5 201.2L134.8 202.5L134.9 203.9L135.4 203.9M132.0 205.6L132.9 205.0L133.4 205.6L132.7 206.3L132.0 205.6M134.2 203.8L134.9 203.4L134.9 204.0L134.3 204.2L134.2 203.8" fill="none" stroke="#c9d0da" stroke-width="0.35" stroke-opacity="0.8" stroke-linejoin="round"/>
</g>

<!-- waves -->
<g id="waves" fill="none" stroke-width="1.8" stroke-linecap="round">
<path d="M5.0 298.5C6.5 298.2 10.7 297.5 14.0 296.5C17.3 295.5 21.7 294.8 24.7 292.5C27.7 290.2 29.6 286.9 32.0 283.0C34.5 279.1 36.9 273.7 39.4 269.4C41.9 265.1 44.6 260.4 47.0 257.0C49.4 253.6 51.7 250.9 54.0 248.8C56.3 246.7 58.5 245.7 61.0 244.6C63.5 243.5 66.0 243.1 68.8 242.2C71.6 241.3 74.8 240.0 78.0 239.0C81.2 238.0 84.8 237.2 88.0 236.0C91.2 234.8 93.8 233.8 97.0 232.0C100.2 230.2 103.7 227.3 107.0 225.0C110.3 222.7 113.8 219.8 117.0 218.0C120.2 216.2 122.8 215.4 126.0 214.5C129.2 213.6 132.7 213.2 136.0 212.5C139.3 211.8 142.7 211.3 146.0 210.5C149.3 209.7 152.7 208.9 156.0 207.5C159.3 206.1 162.8 204.1 166.0 202.0C169.2 199.9 171.8 197.7 175.0 195.0C178.2 192.3 181.7 188.6 185.0 186.0C188.3 183.4 191.8 181.1 194.6 179.5C197.4 177.9 199.4 177.1 202.0 176.5C204.6 175.9 207.3 175.8 210.0 176.0C212.7 176.2 215.3 176.6 218.0 177.5C220.7 178.4 223.3 179.2 226.0 181.5C228.7 183.8 231.5 187.4 234.0 191.0C236.5 194.6 238.5 198.8 241.0 203.0C243.5 207.2 246.3 211.8 249.0 216.0C251.7 220.2 254.3 224.2 257.0 228.0C259.7 231.8 262.4 235.6 265.0 238.5C267.6 241.4 270.0 243.8 272.5 245.6C275.0 247.4 277.4 248.8 280.0 249.5C282.6 250.2 285.5 250.2 288.0 249.8C290.5 249.4 293.0 248.1 295.0 247.0C297.0 245.9 298.2 245.3 300.0 243.0C301.8 240.7 303.8 237.2 306.0 233.0C308.2 228.8 310.7 222.7 313.0 218.0C315.3 213.3 317.3 209.3 319.6 205.0C321.9 200.7 324.3 195.7 327.0 192.0C329.7 188.3 333.0 185.2 336.0 183.0C339.0 180.8 342.0 180.0 345.0 179.0C348.0 178.0 350.0 177.8 354.0 177.0C358.0 176.2 364.0 175.3 369.0 174.5C374.0 173.7 379.0 172.9 384.0 172.0C389.0 171.1 394.2 170.0 399.0 169.0C403.8 168.0 408.7 166.8 413.0 166.0C417.3 165.2 421.3 165.0 425.0 164.5C428.7 164.0 431.8 164.4 435.0 163.0C438.2 161.6 441.0 158.8 444.0 156.0C447.0 153.2 450.2 149.2 453.0 146.0C455.8 142.8 458.5 139.4 461.0 137.0C463.5 134.6 465.3 133.0 468.0 131.6C470.7 130.2 474.0 129.3 477.0 128.5C480.0 127.7 484.5 127.2 486.0 127.0" stroke="url(#fadeG)"/>
<path d="M8.0 292.0C9.8 291.8 15.8 291.8 18.8 291.0C21.8 290.2 23.6 289.5 26.0 287.0C28.4 284.5 31.0 280.2 33.0 276.0C35.0 271.8 36.3 266.4 38.0 262.0C39.7 257.6 41.0 253.5 43.0 249.5C45.0 245.5 47.5 241.6 50.0 238.0C52.5 234.4 55.2 230.8 58.0 228.0C60.8 225.2 64.0 223.0 67.0 221.5C70.0 220.0 73.0 219.2 76.0 219.0C79.0 218.8 82.1 219.7 85.0 220.5C87.9 221.3 90.4 222.4 93.4 224.0C96.4 225.6 99.7 228.0 103.0 230.0C106.3 232.0 109.8 234.2 113.0 236.0C116.2 237.8 118.8 239.2 122.0 240.5C125.2 241.8 128.7 243.0 132.0 243.7C135.3 244.4 138.7 244.8 142.0 244.8C145.3 244.8 149.0 244.5 152.0 243.7C155.0 242.9 157.5 241.6 160.0 240.0C162.5 238.4 164.5 236.7 167.0 234.0C169.5 231.3 172.3 227.6 175.0 224.0C177.7 220.4 180.3 216.1 183.0 212.5C185.7 208.9 188.4 205.2 191.0 202.5C193.6 199.8 196.2 197.6 198.5 196.0C200.8 194.4 202.8 193.5 205.0 192.8C207.2 192.1 209.7 191.9 212.0 192.0C214.3 192.1 216.7 192.7 219.0 193.5C221.3 194.3 223.5 194.9 226.0 197.0C228.5 199.1 231.5 202.5 234.0 206.0C236.5 209.5 238.5 213.3 241.0 218.0C243.5 222.7 246.3 228.8 249.0 234.0C251.7 239.2 254.3 245.1 257.0 249.5C259.7 253.9 262.4 257.6 265.0 260.5C267.6 263.4 270.0 265.3 272.5 267.0C275.0 268.7 277.4 270.0 280.0 270.8C282.6 271.6 285.3 272.0 288.0 272.0C290.7 272.0 293.3 271.5 296.0 271.0C298.7 270.5 296.7 270.5 304.0 269.0C311.3 267.5 329.7 266.2 340.0 262.0C350.3 257.8 360.2 249.3 366.0 244.0C371.8 238.7 372.2 234.5 375.0 230.0C377.8 225.5 380.3 220.7 383.0 217.0C385.7 213.3 388.5 210.6 391.0 208.0C393.5 205.4 395.6 203.2 398.0 201.5C400.4 199.8 403.1 198.5 405.6 197.5C408.1 196.5 410.6 196.0 413.0 195.5C415.4 195.0 417.5 195.2 420.0 194.5C422.5 193.8 425.5 192.8 428.0 191.5C430.5 190.2 432.7 189.4 435.0 186.5C437.3 183.6 439.6 178.9 442.0 174.0C444.4 169.1 447.3 162.4 449.5 157.0C451.7 151.6 453.2 146.3 455.0 141.5C456.8 136.7 458.5 132.4 460.5 128.0C462.5 123.6 464.9 118.7 467.0 115.0C469.1 111.3 472.0 107.5 473.0 106.0" stroke="url(#fadeY)"/>
</g>

<!-- axis -->
<rect x="242" y="377.6" width="572" height="1" fill="#d9d9d9"/>

<!-- bars -->
<g id="bars">
<rect x="299" y="220" width="76" height="11.2" fill="#00b050"/>
<rect x="299" y="231.2" width="76" height="13.4" fill="#808080"/>
<rect x="299" y="244.6" width="76" height="50.5" fill="#f78a0c"/>
<rect x="299" y="295.1" width="76" height="35.7" fill="#3a78b6"/>
<rect x="299" y="330.8" width="76" height="46.8" fill="#c00000"/>

<rect x="490" y="207.2" width="76" height="11" fill="#00b050"/>
<rect x="490" y="218.2" width="76" height="15.9" fill="#808080"/>
<rect x="490" y="234.1" width="76" height="54.6" fill="#f78a0c"/>
<rect x="490" y="288.7" width="76" height="37.8" fill="#3a78b6"/>
<rect x="490" y="326.5" width="76" height="51.1" fill="#c00000"/>

<rect x="681" y="130.8" width="76" height="15.3" fill="#00b050"/>
<rect x="681" y="146.1" width="76" height="23.6" fill="#808080"/>
<rect x="681" y="169.7" width="76" height="87.1" fill="#f78a0c"/>
<rect x="681" y="256.8" width="76" height="50.9" fill="#3a78b6"/>
<rect x="681" y="307.7" width="76" height="69.9" fill="#c00000"/>
</g>

<!-- arrow + circle -->
<line x1="591" y1="207" x2="686" y2="135" stroke="#d8d8d8" stroke-width="0.9"/>
<path d="M681 132.3L690 131L685.7 139.7Z" fill="#dcdcdc"/>
<circle cx="632.6" cy="173.3" r="24" fill="#fc800c"/>
<text x="623" y="177.2" font-size="12.6" fill="#fff" stroke="#fff" stroke-width="0.4" textLength="18.2" lengthAdjust="spacingAndGlyphs">7.6</text>
<text x="641.2" y="177.2" font-size="8.2" fill="#fff" stroke="#fff" stroke-width="0.3" textLength="6.3" lengthAdjust="spacingAndGlyphs">%</text>

<!-- value labels -->
<g font-size="19.6" fill="#000" stroke="#000" stroke-width="0.45">
<text x="319.2" y="211.6" textLength="26.4" lengthAdjust="spacingAndGlyphs">0.9</text>
<text x="515.6" y="190.6" textLength="25.8" lengthAdjust="spacingAndGlyphs">1.0</text>
<text x="704.2" y="124.7" textLength="25.8" lengthAdjust="spacingAndGlyphs">1.5</text>
</g>

<!-- year labels -->
<g font-size="13.2" fill="#595959">
<text x="320.5" y="400" textLength="33" lengthAdjust="spacingAndGlyphs">2022</text>
<text x="511.5" y="400" textLength="33" lengthAdjust="spacingAndGlyphs">2023</text>
<text x="702.5" y="400" textLength="33" lengthAdjust="spacingAndGlyphs">2028</text>
</g>

<!-- legend -->
<g font-size="13" fill="#595959">
<rect x="312.2" y="423.4" width="6.6" height="6.6" fill="#c00000"/>
<text x="322.5" y="430.9" textLength="85.5" lengthAdjust="spacingAndGlyphs">North America</text>
<rect x="426.2" y="423.4" width="6.6" height="6.6" fill="#3a78b6"/>
<text x="437" y="430.9" textLength="42.3" lengthAdjust="spacingAndGlyphs">Europe</text>
<rect x="497.5" y="423.4" width="6.6" height="6.6" fill="#f78a0c"/>
<text x="507.7" y="430.9" textLength="67.3" lengthAdjust="spacingAndGlyphs">Asia Pacific</text>
<rect x="594" y="423.4" width="6.6" height="6.6" fill="#808080"/>
<text x="604" y="430.9" textLength="87.4" lengthAdjust="spacingAndGlyphs">South America</text>
<rect x="710" y="423.4" width="6.6" height="6.6" fill="#00b050"/>
<text x="720.7" y="430.9" textLength="28.5" lengthAdjust="spacingAndGlyphs">ROW</text>
</g>

<!-- title -->
<g font-size="21.4" font-weight="bold" fill="#fff">
<text x="12.5" y="64.8" textLength="476.8" lengthAdjust="spacingAndGlyphs">INSECT REPELLENT ACTIVE INGREDIENTS MARKET</text>
<g stroke="#fff" stroke-width="0.35">
<text x="497" y="64.8" textLength="66.6" lengthAdjust="spacingAndGlyphs">GLOBAL</text>
<text x="569.4" y="64.8" textLength="85" lengthAdjust="spacingAndGlyphs">FORECAST</text>
<text x="654.6" y="64.8" textLength="26" lengthAdjust="spacingAndGlyphs">TO</text>
<text x="684.2" y="64.8" textLength="46" lengthAdjust="spacingAndGlyphs">2028</text>
<text x="734.8" y="64.8" textLength="40.2" lengthAdjust="spacingAndGlyphs">(USD</text>
<text x="780" y="64.8" textLength="28.2" lengthAdjust="spacingAndGlyphs">MN</text>
</g>
</g>

<!-- CAGR -->
<text x="26" y="263.8" font-size="15.8" font-weight="bold" fill="#a6a6a6" stroke="#a6a6a6" stroke-width="0.3" textLength="57.6" lengthAdjust="spacingAndGlyphs">CAGR OF</text>
<text x="27.2" y="297" font-size="36" fill="#7ba7d6" stroke="#7ba7d6" stroke-width="0.9" textLength="46.8" lengthAdjust="spacingAndGlyphs">7.6</text>
<text x="75.2" y="297" font-size="20.6" fill="#7ba7d6" stroke="#7ba7d6" stroke-width="0.45" textLength="12.8" lengthAdjust="spacingAndGlyphs">%</text>
</svg>

<div id="para">
<div>The global insect repellent</div>
<div>active ingredients market is</div>
<div>expected to be worth USD 1.5</div>
<div>billion by 2028, growing at a</div>
<div>CAGR of 7.6% during the</div>
<div class="last">forecast period.</div>
</div>
</body>
</html>
